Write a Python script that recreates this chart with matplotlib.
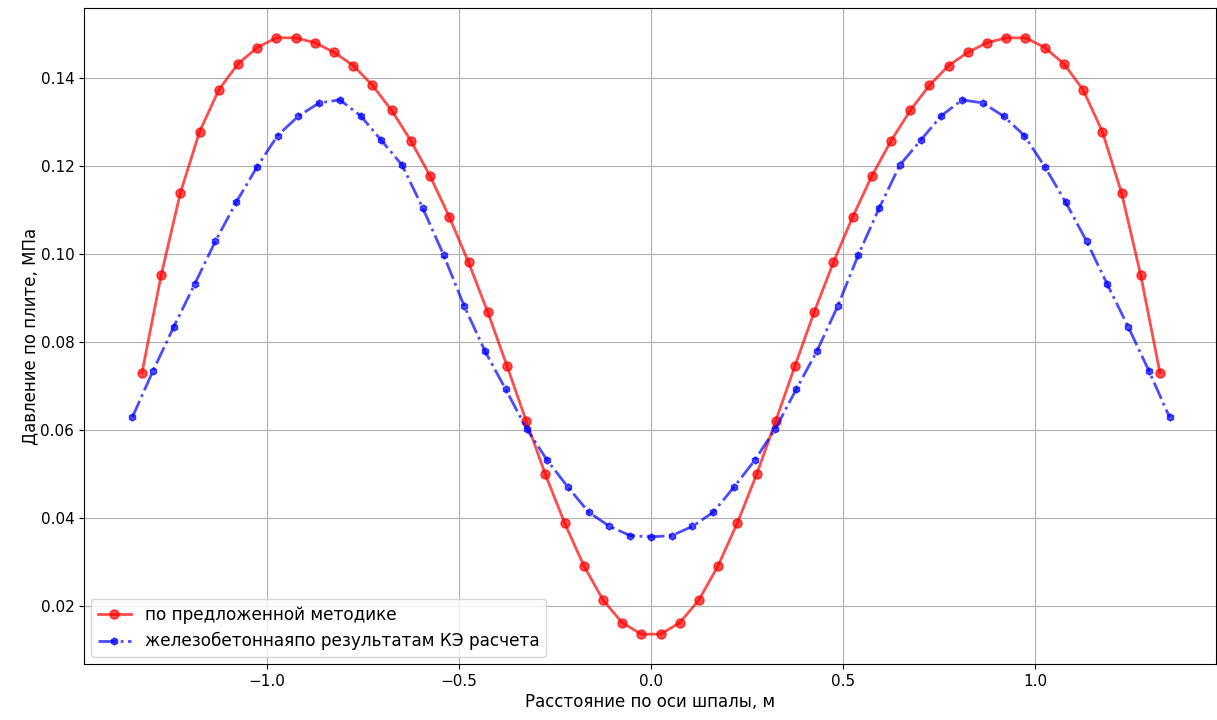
import numpy as np
import matplotlib
matplotlib.use("Agg")
import matplotlib.pyplot as plt

# Positions along the sleeper axis, m
x_method = [-1.325, -1.275, -1.225, -1.175, -1.125, -1.075, -1.025, -0.975, -0.925,
            -0.875, -0.825, -0.775, -0.725, -0.675, -0.625, -0.575, -0.525, -0.475,
            -0.425, -0.375, -0.325, -0.275, -0.225, -0.175, -0.125, -0.075, -0.025,
            0.025, 0.075, 0.125, 0.175, 0.225, 0.275, 0.325, 0.375, 0.425,
            0.475, 0.525, 0.575, 0.625, 0.675, 0.725, 0.775, 0.825, 0.875,
            0.925, 0.975, 1.025, 1.075, 1.125, 1.175, 1.225, 1.275, 1.325]

# Pressure under the slab by the proposed method, MPa
p_method = [0.0731, 0.0953, 0.1140, 0.1279, 0.1374, 0.1433, 0.1470, 0.1492, 0.1492,
            0.1481, 0.1459, 0.1429, 0.1384, 0.1327, 0.1258, 0.1178, 0.1085, 0.0982,
            0.0869, 0.0747, 0.0622, 0.0500, 0.0390, 0.0293, 0.0215, 0.0163, 0.0137,
            0.0137, 0.0163, 0.0215, 0.0293, 0.0390, 0.0500, 0.0622, 0.0747, 0.0869,
            0.0982, 0.1085, 0.1178, 0.1258, 0.1327, 0.1384, 0.1429, 0.1459, 0.1481,
            0.1492, 0.1492, 0.1470, 0.1433, 0.1374, 0.1279, 0.1140, 0.0953, 0.0731]

x_fem = [-1.350, -1.296, -1.242, -1.188, -1.134, -1.080, -1.026, -0.972, -0.918,
         -0.864, -0.810, -0.756, -0.702, -0.648, -0.594, -0.540, -0.486, -0.432,
         -0.378, -0.324, -0.270, -0.216, -0.162, -0.108, -0.054, 0.000,
         0.054, 0.108, 0.162, 0.216, 0.270, 0.324, 0.378, 0.432, 0.486,
         0.540, 0.594, 0.648, 0.702, 0.756, 0.810, 0.864, 0.918, 0.972,
         1.026, 1.080, 1.134, 1.188, 1.242, 1.296, 1.350]

# Pressure from the finite element analysis, MPa
p_fem = [0.0630, 0.0736, 0.0836, 0.0932, 0.1030, 0.1118, 0.1198, 0.1270, 0.1314,
         0.1344, 0.1351, 0.1315, 0.1259, 0.1203, 0.1105, 0.0999, 0.0882, 0.0780,
         0.0693, 0.0604, 0.0532, 0.0471, 0.0414, 0.0382, 0.0361, 0.0358,
         0.0361, 0.0382, 0.0414, 0.0471, 0.0532, 0.0604, 0.0693, 0.0780, 0.0882,
         0.0999, 0.1105, 0.1203, 0.1259, 0.1315, 0.1351, 0.1344, 0.1314, 0.1270,
         0.1198, 0.1118, 0.1030, 0.0932, 0.0836, 0.0736, 0.0630]

label_method = "по предложенной методике"
label_fem = "железобетоннаяпо результатам КЭ расчета"

fig = plt.figure(figsize=(12.17, 7.2), dpi=100)
ax = fig.add_axes([84 / 1217, 1 - 664 / 720, (1216 - 84) / 1217, (664 - 8) / 720])

ax.plot(x_method, p_method, color="red", marker="o", markersize=6.5,
        linewidth=2, alpha=0.7, label=label_method)
ax.plot(x_fem, p_fem, color="blue", marker="h", markersize=5,
        linewidth=2, linestyle="-.", alpha=0.7, label=label_fem)

ax.set_xlim(-1.476, 1.471)
ax.grid(True)
ax.set_xlabel("Расстояние по оси шпалы, м", fontsize=12, labelpad=3)
ax.set_ylabel("Давление по плите, МПа", fontsize=12, labelpad=1)
ax.tick_params(labelsize=11)
ax.legend(loc="lower left", fontsize=12.2, borderaxespad=0.4)

fig.savefig("out.png", dpi=100)
